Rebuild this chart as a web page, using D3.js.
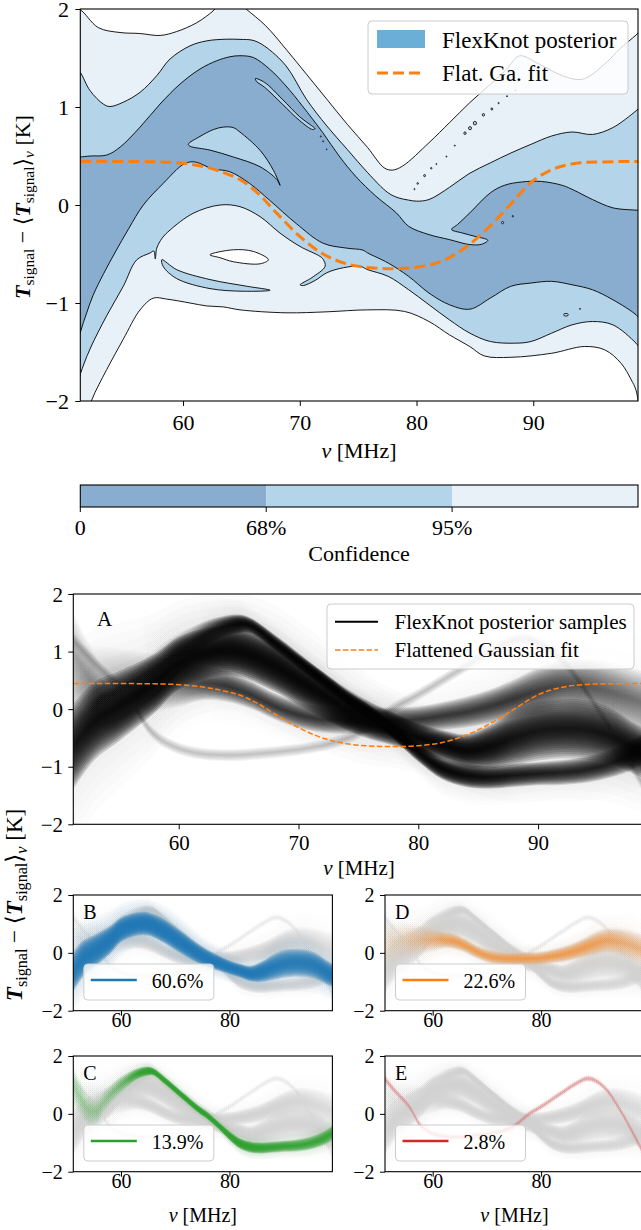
<!DOCTYPE html>
<html>
<head>
<meta charset="utf-8">
<script src="https://cdn.jsdelivr.net/npm/d3@7"></script>
<style>
  body { margin: 0; background: #fff; }
  svg { display: block; }
  svg text { font-family: "Liberation Serif", "DejaVu Serif", "Times New Roman", serif; fill: #000; }
</style>
</head>
<body>
<svg id="fig" width="641" height="1230"></svg>
<script>
// ---------------- data ----------------
// Frequency band and tick labels
const nuDomain = [51.2, 98.97];
const xTicksMain = [60, 70, 80, 90];
const yTicksMain = [-2, -1, 0, 1, 2];
const xTicksSmall = [60, 80];
const yTicksSmall = [-2, 0, 2];
const confTicks = ["0", "68%", "95%"];

// Confidence contours of the FlexKnot posterior, [nu (MHz), T (K)]
const outerUpper = [[50.8,1.99],[51.2,1.99],[52.74,1.81],[54.6,1.76],[56.3,1.75],[58.03,1.73],[59.46,1.77],[61.17,1.86],[62.57,1.98],[63.2,2.06],[64.6,2.08],[65.4,2.0],[67.07,1.83],[68.82,1.59],[70.57,1.335],[72.32,1.079],[74.07,0.823],[75.82,0.585],[77.22,0.38],[77.92,0.356],[78.8,0.397],[81.07,0.636],[82.82,0.84],[84.57,1.045],[86.32,1.232],[87.72,1.386],[88.81,1.522],[90.52,1.437],[92.52,1.318],[94.23,1.284],[96.26,1.454],[97.38,1.59],[98.8,1.734],[99.4,1.8]];
const outerLower = [[50.8,-2.4],[51.5,-2.25],[52.18,-1.99],[53.46,-1.68],[54.88,-1.37],[56.32,-1.07],[57.46,-0.95],[58.6,-0.96],[60.6,-1.0],[62.03,-1.03],[63.45,-1.04],[64.88,-1.07],[68.82,-1.10],[72.32,-1.09],[75.82,-1.07],[78.97,-1.086],[81.07,-1.189],[82.82,-1.325],[84.57,-1.445],[85.8,-1.54],[88.07,-1.554],[91.57,-1.513],[94.37,-1.444],[96.12,-1.478],[97.52,-1.615],[98.4,-1.786],[98.8,-1.89],[99.4,-2.3]];
const midUpper = [[50.8,1.4],[51.2,1.353],[52.03,1.168],[53.17,1.03],[53.74,1.005],[54.88,1.049],[56.32,1.15],[57.75,1.32],[58.89,1.49],[60.6,1.624],[62.03,1.675],[63.75,1.692],[64.88,1.69],[66.0,1.68],[67.0,1.62],[68.82,1.42],[70.57,1.079],[72.32,0.806],[74.07,0.567],[75.82,0.329],[77.57,0.124],[78.45,0.073],[79.32,0.05],[80.02,0.039],[81.07,0.056],[82.82,0.18],[84.5,0.32],[86.32,0.43],[88.07,0.53],[89.82,0.62],[91.57,0.704],[93.32,0.745],[95.07,0.72],[96.82,0.79],[98.8,0.96],[99.4,1.02]];
const midLower = [[50.8,-1.9],[51.2,-1.726],[52.03,-1.47],[53.46,-1.13],[54.88,-0.83],[56.03,-0.56],[57.17,-0.49],[57.5,-0.47],[57.62,-0.55],[57.75,-0.44],[58.2,-0.34],[58.9,-0.254],[60.88,-0.084],[63.17,0.0],[64.88,-0.017],[66.6,-0.119],[68.31,-0.287],[70.02,-0.423],[71.74,-0.525],[72.02,-0.558],[72.17,-0.626],[71.05,-0.74],[70.03,-0.815],[70.3,-0.822],[71.31,-0.77],[72.34,-0.69],[73.74,-0.64],[75.17,-0.626],[75.82,-0.66],[77.57,-0.728],[79.32,-0.864],[81.07,-1.018],[82.82,-1.172],[84.57,-1.308],[86.32,-1.393],[88.42,-1.41],[89.8,-1.393],[91.57,-1.308],[93.32,-1.223],[95.07,-1.189],[96.82,-1.223],[98.8,-1.41],[99.4,-1.5]];
const darkUpper = [[50.8,0.49],[51.2,0.49],[52.03,0.50],[53.46,0.51],[54.6,0.59],[56.32,0.795],[58.03,1.03],[59.75,1.235],[61.46,1.388],[62.89,1.472],[64.03,1.513],[64.88,1.523],[66.02,1.505],[67.42,1.386],[68.82,1.215],[70.22,1.011],[71.97,0.738],[73.37,0.5],[74.77,0.295],[76.52,0.09],[78.27,-0.08],[79.32,-0.217],[81.07,-0.302],[82.82,-0.353],[84.57,-0.404],[85.6,-0.40],[86.1,-0.36],[85.0,-0.32],[83.9,-0.285],[83.0,-0.25],[83.5,-0.2],[84.57,-0.08],[86.32,0.124],[87.5,0.2],[89.0,0.235],[90.7,0.24],[92.5,0.2],[93.5,0.15],[95.07,0.056],[96.82,-0.029],[98.8,-0.053],[99.4,-0.06]];
const darkLower = [[50.8,-1.5],[51.2,-1.30],[51.75,-1.10],[52.3,-0.92],[53.2,-0.70],[54.2,-0.48],[55.35,-0.24],[56.6,0.0],[58.3,0.22],[60.1,0.42],[61.0,0.44],[62.5,0.37],[64.0,0.34],[65.7,0.22],[67.4,0.05],[69.7,-0.19],[72.0,-0.39],[74.0,-0.44],[75.4,-0.46],[75.82,-0.49],[77.57,-0.592],[79.32,-0.728],[81.07,-0.899],[82.82,-1.018],[84.57,-1.063],[86.32,-0.95],[88.07,-0.83],[89.82,-0.796],[91.57,-0.779],[93.32,-0.814],[95.07,-0.865],[96.82,-0.967],[98.8,-1.12],[99.4,-1.2]];
// Islands of one level sitting inside another
const midSliver = [[58.18,-0.558],[59.46,-0.66],[62.31,-0.761],[65.46,-0.829],[67.46,-0.87],[65.17,-0.88],[62.31,-0.853],[59.46,-0.751],[58.31,-0.629]];
const emptyHole = [[62.31,-0.508],[64.31,-0.457],[66.02,-0.474],[67.31,-0.558],[66.6,-0.6],[64.31,-0.579],[63.17,-0.538]];
const midWedge = [[60.45,0.62],[61.46,0.70],[62.6,0.77],[63.45,0.795],[64.3,0.79],[64.88,0.744],[66.6,0.558],[67.74,0.355],[68.31,0.2],[68.03,0.26],[66.6,0.39],[64.31,0.49],[62.31,0.56],[60.6,0.6]];
const midTongue = [[66.2,1.29],[67.0,1.25],[68.5,1.08],[70.0,0.9],[71.0,0.81],[71.3,0.78],[71.1,0.77],[70.0,0.86],[68.5,1.03],[67.0,1.2],[66.3,1.26]];
// tiny closed contours: [nu, T, half-width (MHz), half-height (K)]
const specks = [[79.82,0.162,0.04,0.007],[80.1,0.22,0.06,0.009],[80.69,0.30,0.08,0.011],[81.26,0.375,0.06,0.008],[81.7,0.418,0.04,0.006],[82.56,0.494,0.04,0.006],[83.28,0.606,0.04,0.006],[84.15,0.733,0.1,0.013],[84.58,0.784,0.13,0.016],[85.0,0.835,0.14,0.018],[85.73,0.92,0.1,0.013],[86.45,0.98,0.08,0.011],[87.03,1.04,0.05,0.007],[87.75,1.11,0.04,0.006],[88.47,1.17,0.03,0.005],[87.37,-0.18,0.09,0.012],[88.25,-0.115,0.05,0.008],[92.8,-1.12,0.2,0.014],[94.0,-1.06,0.04,0.006],[71.8,0.70,0.04,0.006],[72.0,0.65,0.04,0.006],[72.3,0.568,0.03,0.005]];

// Flattened Gaussian fit
const fitNu = [51.2,58,60,62,63.5,65,66.5,68,70,72,74,76,78,80,82,84,86,88,90,92,94,96,99];
const fitT  = [0.445,0.44,0.425,0.385,0.33,0.25,0.11,-0.08,-0.32,-0.5,-0.6,-0.64,-0.65,-0.635,-0.58,-0.45,-0.25,0.0,0.25,0.38,0.43,0.44,0.445];

// Posterior sample clusters: centre line, spread (K) and relative density along nu
const clusterLabels = ["B", "D", "C", "E"];
const clusterShares = ["60.6%", "22.6%", "13.9%", "2.8%"];
const nuB = [51.2,53,55,58,60,63,65,68,70,72,74,76,78,80,82,84,86,88,90,92,94,96,98,99];
const centreB = [-0.65,-0.2,0.05,0.45,0.8,1.0,1.0,0.75,0.5,0.25,0.0,-0.2,-0.35,-0.5,-0.62,-0.72,-0.65,-0.5,-0.38,-0.34,-0.36,-0.46,-0.68,-0.78];
const spreadB = [0.55,0.5,0.45,0.38,0.34,0.32,0.32,0.33,0.32,0.3,0.27,0.24,0.21,0.19,0.19,0.21,0.28,0.35,0.38,0.38,0.38,0.36,0.33,0.32];
const densityB = [0.7,0.85,0.9,1,1,1,1,1,1,1,1,1,1,1,1,1,0.9,0.75,0.7,0.7,0.7,0.75,0.85,0.85];
const nuD = [51.2,54,57,60,62,64,66,68,70,72,74,76,78,80,82,84,86,88,90,92,94,96,99];
const centreD = [0.3,0.4,0.45,0.45,0.45,0.4,0.25,0.05,-0.1,-0.18,-0.2,-0.2,-0.2,-0.18,-0.12,-0.05,0.05,0.18,0.32,0.42,0.4,0.3,0.1];
const spreadD = [0.6,0.5,0.4,0.3,0.22,0.2,0.18,0.17,0.17,0.17,0.17,0.17,0.17,0.17,0.18,0.2,0.22,0.25,0.3,0.32,0.35,0.38,0.4];
const densityD = [0.15,0.2,0.3,0.55,0.85,1,1,1,1,1,1,1,1,1,1,1,1,1,0.9,0.8,0.7,0.6,0.5];
const nuC = [51.2,52.5,54,55.5,57,59,61,63,65,66,68,70,72,74,76,78,80,82,84,86,88,90,92,94,96,98,99];
const centreC = [1.0,0.55,0.12,0.1,0.45,0.85,1.15,1.38,1.48,1.45,1.16,0.84,0.52,0.2,-0.07,-0.4,-0.75,-1.03,-1.15,-1.18,-1.15,-1.12,-1.1,-1.05,-0.95,-0.78,-0.66];
const spreadC = [0.5,0.45,0.4,0.35,0.3,0.25,0.2,0.15,0.12,0.1,0.1,0.1,0.1,0.1,0.1,0.1,0.12,0.14,0.15,0.15,0.15,0.15,0.16,0.17,0.18,0.2,0.2];
const densityC = [0.12,0.12,0.12,0.12,0.12,0.18,0.3,0.6,1,1,1,1,1,1,1,1,1,1,0.9,0.8,0.7,0.65,0.6,0.6,0.6,0.6,0.6];
const nuE = [51.2,53,55.6,57.9,60.4,63.9,67.3,70.7,73,75,77.8,80,82,84,86,88.5,90,92,94.9,97.9,99];
const centreE = [1.2,0.8,0.27,-0.43,-0.71,-0.8,-0.76,-0.68,-0.58,-0.42,0.0,0.25,0.5,0.75,1.0,1.22,1.15,0.85,0.03,-1.0,-1.4];
const spreadE = [0.1,0.09,0.08,0.08,0.08,0.08,0.08,0.08,0.08,0.08,0.08,0.08,0.08,0.08,0.08,0.08,0.08,0.08,0.08,0.1,0.1];
const densityE = [1,1,1,1,1,1,1,1,1,1,1,1,1,1,1,1,1,1,1,1,1];

// ---------------- drawing ----------------
const LIGHT = "#e8f0f8", MID = "#b4d4e9", DARK = "#88adcf", PATCH = "#6baed6";
const ORANGE = "#ff7f0e";
const svg = d3.select("#fig");
const defs = svg.append("defs");
let uid = 0;
function clipRect(x0, y0, x1, y1) {
  const id = "clip" + (uid++);
  defs.append("clipPath").attr("id", id).append("rect")
    .attr("x", x0).attr("y", y0).attr("width", x1 - x0).attr("height", y1 - y0);
  return `url(#${id})`;
}

function signalLabel(g, cx, cy, size) {
  const t = g.append("text").attr("transform", `translate(${cx},${cy}) rotate(-90)`)
    .attr("text-anchor", "middle").attr("font-size", size);
  const sub = size * 0.7, dy = size * 0.2;
  t.append("tspan").attr("font-style", "italic").attr("font-weight", "bold").text("T");
  t.append("tspan").attr("font-size", sub).attr("dy", dy).text("signal");
  t.append("tspan").attr("dy", -dy).text(" \u2212 \u27E8");
  t.append("tspan").attr("font-style", "italic").attr("font-weight", "bold").text("T");
  t.append("tspan").attr("font-size", sub).attr("dy", dy).text("signal");
  t.append("tspan").attr("dy", -dy).text("\u27E9");
  t.append("tspan").attr("font-size", sub).attr("font-style", "italic").attr("dy", dy).text("\u03BD");
  t.append("tspan").attr("dy", -dy).text(" [K]");
}

function nuLabel(g, cx, baseline, size) {
  const t = g.append("text").attr("x", cx).attr("y", baseline).attr("text-anchor", "middle")
    .attr("font-size", size);
  t.append("tspan").attr("font-style", "italic").text("\u03BD");
  t.append("tspan").text(" [MHz]");
}

function axes(g, x, y, xt, yt, fs, xBase, yEnd) {
  const x0 = x.range()[0], y0 = y.range()[0];
  const ax = g.append("g").attr("transform", `translate(0,${y0})`)
    .call(d3.axisBottom(x).tickValues(xt).tickSize(5).tickSizeOuter(0).tickFormat(d3.format("d")));
  ax.select(".domain").remove();
  ax.attr("font-family", null).attr("font-size", fs);
  ax.selectAll(".tick line").attr("stroke-width", 1);
  ax.selectAll(".tick text").attr("dy", null).attr("y", xBase - y0);
  const ay = g.append("g").attr("transform", `translate(${x0},0)`)
    .call(d3.axisLeft(y).tickValues(yt).tickSize(5).tickSizeOuter(0).tickFormat(d3.format("d")));
  ay.select(".domain").remove();
  ay.attr("font-family", null).attr("font-size", fs);
  ay.selectAll(".tick line").attr("stroke-width", 1);
  ay.selectAll(".tick text").attr("x", yEnd - x0).attr("dy", "0.34em");
}

function frame(g, x, y) {
  const [a, b] = x.range(), [c, d] = y.range();
  g.append("rect").attr("x", a).attr("y", d).attr("width", b - a).attr("height", c - d)
    .attr("fill", "none").attr("stroke", "#000").attr("stroke-width", 1.1);
}

function legendBox(g, x0, y0, x1, y1) {
  g.append("rect").attr("x", x0).attr("y", y0).attr("width", x1 - x0).attr("height", y1 - y0)
    .attr("rx", 4).attr("fill", "#fff").attr("fill-opacity", 0.8)
    .attr("stroke", "#cccccc").attr("stroke-width", 1);
}

// ---------- top: confidence contours ----------
{
  const x = d3.scaleLinear().domain(nuDomain).range([80.3, 638]);
  const y = d3.scaleLinear().domain([-2, 2]).range([401, 9]);
  const g = svg.append("g");
  const body = g.append("g").attr("clip-path", clipRect(80.3, 9, 638, 401));
  const loop = d3.line().x(d => x(d[0])).y(d => y(d[1])).curve(d3.curveCatmullRomClosed.alpha(0.5));
  const region = (upper, lower, fill) => body.append("path")
    .attr("d", loop(upper.concat(lower.slice().reverse())))
    .attr("fill", fill).attr("stroke", "#000").attr("stroke-width", 0.9);
  const island = (pts, fill) => body.append("path").attr("d", loop(pts))
    .attr("fill", fill).attr("stroke", "#000").attr("stroke-width", 0.9);

  region(outerUpper, outerLower, LIGHT);
  region(midUpper, midLower, MID);
  island(midSliver, MID);
  island(emptyHole, "#fff");
  region(darkUpper, darkLower, DARK);
  island(midWedge, MID);
  island(midTongue, MID);
  body.selectAll("ellipse.speck").data(specks).join("ellipse").attr("class", "speck")
    .attr("cx", d => x(d[0])).attr("cy", d => y(d[1]))
    .attr("rx", d => x(d[0] + d[2]) - x(d[0])).attr("ry", d => y(d[1] - d[3]) - y(d[1]))
    .attr("fill", MID).attr("stroke", "#000").attr("stroke-width", 0.8);

  const fit = d3.line().x((d, i) => x(fitNu[i])).y(d => y(d)).curve(d3.curveCatmullRom.alpha(0.5));
  body.append("path").attr("d", fit(fitT)).attr("fill", "none").attr("stroke", ORANGE)
    .attr("stroke-width", 3).attr("stroke-dasharray", "11,5");

  frame(g, x, y);
  axes(g, x, y, xTicksMain, yTicksMain, 22, 430, 69);
  nuLabel(g, 359, 458, 22);
  signalLabel(g, 30, 207, 22);

  legendBox(g, 368, 21, 628, 94);
  g.append("rect").attr("x", 377).attr("y", 30).attr("width", 48).attr("height", 18).attr("fill", PATCH);
  g.append("line").attr("x1", 377).attr("x2", 425).attr("y1", 73).attr("y2", 73)
    .attr("stroke", ORANGE).attr("stroke-width", 3).attr("stroke-dasharray", "11,5");
  g.append("text").attr("x", 442).attr("y", 47.5).attr("font-size", 23).text("FlexKnot posterior");
  g.append("text").attr("x", 442).attr("y", 80.5).attr("font-size", 23).text("Flat. Ga. fit");

  // colour bar
  const cb = d3.scaleLinear().domain([0, 3]).range([80.3, 638]);
  const fills = [DARK, MID, LIGHT];
  g.selectAll("rect.cb").data(fills).join("rect").attr("class", "cb")
    .attr("x", (d, i) => cb(i)).attr("y", 485).attr("width", cb(1) - cb(0)).attr("height", 22).attr("fill", d => d);
  g.append("rect").attr("x", cb(0)).attr("y", 485).attr("width", cb(3) - cb(0)).attr("height", 22)
    .attr("fill", "none").attr("stroke", "#000").attr("stroke-width", 1.1);
  g.selectAll("line.cbt").data(confTicks).join("line").attr("class", "cbt")
    .attr("x1", (d, i) => cb(i)).attr("x2", (d, i) => cb(i)).attr("y1", 507).attr("y2", 512)
    .attr("stroke", "#000").attr("stroke-width", 1);
  g.selectAll("text.cbl").data(confTicks).join("text").attr("class", "cbl")
    .attr("x", (d, i) => cb(i)).attr("y", 535).attr("text-anchor", "middle")
    .attr("font-size", 22).text(d => d);
  g.append("text").attr("x", 359).attr("y", 561).attr("text-anchor", "middle")
    .attr("font-size", 22).text("Confidence");
}

// ---------- sample clusters ----------
const clusters = [
  { nu: nuB, c: centreB, s: spreadB, w: densityB, color: "#1f77b4", black: 0.22, grey: 0.28, own: 0.3 },
  { nu: nuD, c: centreD, s: spreadD, w: densityD, color: "#ff7f0e", black: 0.1, grey: 0.22, own: 0.08 },
  { nu: nuC, c: centreC, s: spreadC, w: densityC, color: "#2ca02c", black: 0.22, grey: 0.28, own: 0.3 },
  { nu: nuE, c: centreE, s: spreadE, w: densityE, color: "#d62728", black: 0.02, grey: 0.05, own: 0.035 }
];

// fill that fades along nu with the cluster's density
function ramp(x, k, color, alpha) {
  const id = "ramp" + (uid++);
  const n0 = k.nu[0], n1 = k.nu[k.nu.length - 1];
  const lg = defs.append("linearGradient").attr("id", id).attr("gradientUnits", "userSpaceOnUse")
    .attr("x1", x(n0)).attr("x2", x(n1)).attr("y1", 0).attr("y2", 0);
  k.nu.forEach((n, i) => lg.append("stop").attr("offset", (n - n0) / (n1 - n0))
    .attr("stop-color", color).attr("stop-opacity", Math.min(1, alpha * k.w[i])));
  return `url(#${id})`;
}

function band(g, x, y, k, color, alpha, layers, reach) {
  const pts = k.nu.map((n, i) => ({ n, c: k.c[i], s: k.s[i] }));
  const fill = ramp(x, k, color, alpha);
  for (let j = 1; j <= layers; j++) {
    const f = reach * j / layers;
    const area = d3.area().curve(d3.curveCatmullRom.alpha(0.5))
      .x(d => x(d.n)).y0(d => y(d.c - d.s * f)).y1(d => y(d.c + d.s * f));
    g.append("path").datum(pts).attr("d", area).attr("fill", fill);
  }
}

// ---------- panel A ----------
{
  const x = d3.scaleLinear().domain([51.2, 99.0]).range([73.3, 645.9]);
  const y = d3.scaleLinear().domain([-2, 2]).range([824.3, 594]);
  const g = svg.append("g");
  const body = g.append("g").attr("clip-path", clipRect(73.3, 594, 645.9, 824.3));
  clusters.forEach(k => band(body, x, y, k, "#000", k.black * 0.065, 8, 3.2));
  clusters.forEach(k => band(body, x, y, k, "#000", k.black, 14, 1.35));
  const fit = d3.line().x((d, i) => x(fitNu[i])).y(d => y(d)).curve(d3.curveCatmullRom.alpha(0.5));
  body.append("path").attr("d", fit(fitT)).attr("fill", "none").attr("stroke", ORANGE)
    .attr("stroke-width", 1.5).attr("stroke-dasharray", "5.5,2.4");
  frame(g, x, y);
  axes(g, x, y, xTicksMain, yTicksMain, 21, 850, 63);
  nuLabel(g, 359, 875, 21);
  g.append("text").attr("x", 97).attr("y", 626).attr("font-size", 21).text("A");
  legendBox(g, 327, 604, 634, 669);
  g.append("line").attr("x1", 335).attr("x2", 378).attr("y1", 621.7).attr("y2", 621.7)
    .attr("stroke", "#000").attr("stroke-width", 2);
  g.append("line").attr("x1", 335).attr("x2", 378).attr("y1", 650).attr("y2", 650)
    .attr("stroke", ORANGE).attr("stroke-width", 1.5).attr("stroke-dasharray", "5.5,2.4");
  g.append("text").attr("x", 394.5).attr("y", 628.7).attr("font-size", 21).text("FlexKnot posterior samples");
  g.append("text").attr("x", 394.5).attr("y", 657).attr("font-size", 21).text("Flattened Gaussian fit");
}

// ---------- panels B–E ----------
const smallPanels = [
  { k: 0, x0: 73.3, y0: 895, lab: 919 },
  { k: 1, x0: 385, y0: 895, lab: 919 },
  { k: 2, x0: 73.3, y0: 1056, lab: 1080 },
  { k: 3, x0: 385, y0: 1056, lab: 1080 }
];
smallPanels.forEach(p => {
  const x = d3.scaleLinear().domain([51.2, 99.0]).range([p.x0, p.x0 + 259.1]);
  const y = d3.scaleLinear().domain([-2, 2]).range([p.y0 + 115.7, p.y0]);
  const g = svg.append("g");
  const body = g.append("g").attr("clip-path", clipRect(p.x0, p.y0, p.x0 + 259.1, p.y0 + 115.7));
  clusters.forEach(k => band(body, x, y, k, "#d0d0d0", k.grey * 0.12, 8, 3.0));
  clusters.forEach(k => band(body, x, y, k, "#d0d0d0", k.grey, 10, 1.4));
  const hk = clusters[p.k];
  band(body, x, y, hk, hk.color, hk.own * 0.12, 8, 2.6);
  band(body, x, y, hk, hk.color, hk.own, 12, 1.25);
  frame(g, x, y);
  axes(g, x, y, xTicksSmall, yTicksSmall, 20, p.y0 + 132, p.x0 - 10.5);
  g.append("text").attr("x", p.x0 + 10).attr("y", p.lab).attr("font-size", 20)
    .text(clusterLabels[p.k]);
  const lx = p.x0 + 10.5, ly = p.y0 + 69;
  legendBox(g, lx, ly, lx + 130, ly + 36);
  g.append("line").attr("x1", lx + 7).attr("x2", lx + 53).attr("y1", ly + 16).attr("y2", ly + 16)
    .attr("stroke", hk.color).attr("stroke-width", 2.6);
  g.append("text").attr("x", lx + 68).attr("y", ly + 24).attr("font-size", 20)
    .text(clusterShares[p.k]);
  if (p.y0 > 1000) nuLabel(g, p.x0 + 129.5, 1222, 20);
});
signalLabel(svg, 22, 905, 23);
</script>
</body>
</html>
